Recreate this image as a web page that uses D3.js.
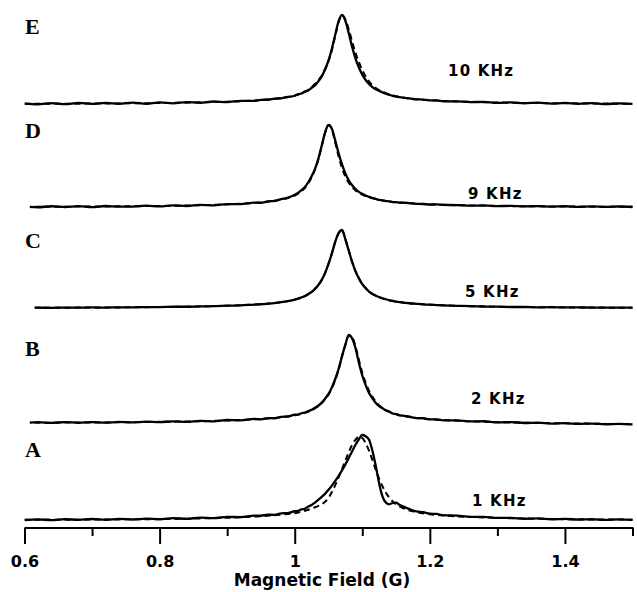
<!DOCTYPE html>
<html>
<head>
<meta charset="utf-8">
<script src="https://cdn.jsdelivr.net/npm/d3@7"></script>
<style>
  body { margin: 0; background: #fff; }
  svg { display: block; }
</style>
</head>
<body>
<div id="chart"></div>
<script>
// field values (G) shared by every trace
const field = [
  0.60, 0.62, 0.64, 0.66, 0.68, 0.70, 0.72, 0.74, 0.76, 0.78, 0.80, 0.82, 0.84, 0.86, 0.88, 0.90, 0.92, 0.94,
  0.95, 0.96, 0.97, 0.98, 0.99,
  1.000, 1.005, 1.010, 1.015, 1.020, 1.025, 1.030, 1.035, 1.040, 1.045, 1.050, 1.055, 1.060, 1.065, 1.070,
  1.075, 1.080, 1.085, 1.090, 1.095, 1.100, 1.105, 1.110, 1.115, 1.120, 1.125, 1.130, 1.135, 1.140, 1.145,
  1.150, 1.155, 1.160,
  1.17, 1.18, 1.19, 1.20, 1.21, 1.22,
  1.24, 1.26, 1.28, 1.30, 1.32, 1.34, 1.36, 1.38, 1.40, 1.42, 1.44, 1.46, 1.48, 1.50
];

const panelNames = ['A', 'B', 'C', 'D', 'E'];
const freqLabels = ['1 KHz', '2 KHz', '5 KHz', '9 KHz', '10 KHz'];
const majorTicks = [0.6, 0.8, 1.0, 1.2, 1.4];
const minorTicks = [0.7, 0.9, 1.1, 1.3, 1.5];

// measured spectra (normalised, peak = 1)
const traceA = [
  0.000, 0.008, -0.002, 0.010, 0.002, 0.012, 0.003, 0.014, 0.006, 0.017, 0.009, 0.021, 0.014, 0.027, 0.022, 0.037, 0.034, 0.052,
  0.050, 0.062, 0.061, 0.079, 0.082,
  0.103, 0.107, 0.125, 0.133, 0.158, 0.176, 0.205, 0.238, 0.272, 0.310, 0.355, 0.405, 0.460, 0.520, 0.585,
  0.655, 0.730, 0.810, 0.885, 0.950, 1.000, 0.985, 0.945, 0.815, 0.635, 0.430, 0.275, 0.205, 0.185, 0.200,
  0.205, 0.180, 0.160,
  0.128, 0.102, 0.093, 0.075, 0.071, 0.057,
  0.051, 0.037, 0.036, 0.024, 0.025, 0.015, 0.018, 0.009, 0.013, 0.005, 0.009, 0.002, 0.007, 0.001
];
const traceB = [
  0.000, 0.009, 0.001, 0.010, 0.002, 0.011, 0.004, 0.012, 0.006, 0.015, 0.009, 0.019, 0.013, 0.025, 0.018, 0.034, 0.030, 0.046,
  0.042, 0.056, 0.054, 0.070, 0.073,
  0.094, 0.096, 0.111, 0.119, 0.136, 0.150, 0.174, 0.198, 0.232, 0.277, 0.330, 0.405, 0.500, 0.615, 0.760,
  0.890, 1.000, 0.960, 0.850, 0.685, 0.540, 0.430, 0.340, 0.280, 0.228, 0.192, 0.168, 0.141, 0.130, 0.108,
  0.102, 0.087, 0.083,
  0.071, 0.056, 0.054, 0.041, 0.040, 0.030,
  0.030, 0.018, 0.020, 0.006, 0.011, 0.000, 0.004, -0.006, -0.002, -0.010, -0.006, -0.014, -0.010, -0.016
];
const traceC = [
  0.003, 0.005, 0.002, 0.006, 0.004, 0.007, 0.005, 0.009, 0.008, 0.012, 0.012, 0.016, 0.016, 0.021, 0.023, 0.030, 0.034, 0.044,
  0.048, 0.055, 0.063, 0.074, 0.088,
  0.107, 0.120, 0.136, 0.153, 0.177, 0.205, 0.245, 0.295, 0.360, 0.450, 0.565, 0.700, 0.850, 0.960, 1.000,
  0.880, 0.735, 0.590, 0.470, 0.380, 0.305, 0.255, 0.210, 0.180, 0.158, 0.140, 0.123, 0.112, 0.099, 0.090,
  0.082, 0.076, 0.070,
  0.061, 0.054, 0.047, 0.042, 0.038, 0.034,
  0.028, 0.024, 0.019, 0.017, 0.013, 0.013, 0.009, 0.010, 0.007, 0.008, 0.005, 0.006, 0.004, 0.005
];
const traceD = [
  0.006, -0.003, 0.009, 0.000, 0.011, -0.001, 0.012, 0.004, 0.005, 0.016, 0.007, 0.020, 0.012, 0.027, 0.020, 0.036, 0.034, 0.053,
  0.052, 0.068, 0.074, 0.096, 0.115,
  0.150, 0.172, 0.207, 0.243, 0.302, 0.375, 0.465, 0.590, 0.750, 0.910, 1.000, 0.955, 0.810, 0.655, 0.520,
  0.410, 0.325, 0.265, 0.220, 0.185, 0.160, 0.140, 0.123, 0.110, 0.099, 0.086, 0.082, 0.072, 0.069, 0.060,
  0.060, 0.052, 0.053,
  0.047, 0.038, 0.037, 0.030, 0.031, 0.025,
  0.024, 0.016, 0.019, 0.010, 0.014, 0.007, 0.011, 0.004, 0.009, 0.002, 0.007, 0.001, 0.006, 0.000
];
const traceE = [
  0.004, -0.004, 0.010, -0.002, 0.012, 0.001, 0.013, 0.003, 0.016, 0.002, 0.018, 0.008, 0.022, 0.014, 0.028, 0.022, 0.036, 0.036,
  0.047, 0.048, 0.060, 0.064, 0.080,
  0.093, 0.109, 0.118, 0.139, 0.153, 0.182, 0.208, 0.256, 0.310, 0.390, 0.490, 0.620, 0.780, 0.930, 1.000,
  0.935, 0.795, 0.640, 0.510, 0.410, 0.330, 0.270, 0.225, 0.190, 0.165, 0.147, 0.130, 0.115, 0.103, 0.092,
  0.084, 0.077, 0.071,
  0.063, 0.052, 0.050, 0.040, 0.041, 0.031,
  0.030, 0.021, 0.024, 0.012, 0.018, 0.008, 0.015, 0.004, 0.012, 0.002, 0.010, -0.002, 0.008, 0.002
];

// fitted curves (dashed)
const fitA = [
  0.002, 0.003, 0.003, 0.004, 0.004, 0.005, 0.006, 0.007, 0.008, 0.009, 0.011, 0.013, 0.015, 0.018, 0.022, 0.026, 0.032, 0.040,
  0.045, 0.050, 0.056, 0.063, 0.071,
  0.080, 0.088, 0.097, 0.108, 0.120, 0.134, 0.150, 0.166, 0.185, 0.215, 0.260, 0.330, 0.410, 0.500, 0.600,
  0.700, 0.800, 0.885, 0.945, 0.980, 0.965, 0.905, 0.815, 0.705, 0.590, 0.485, 0.395, 0.320, 0.262, 0.218,
  0.185, 0.160, 0.140,
  0.112, 0.093, 0.079, 0.068, 0.060, 0.053,
  0.043, 0.036, 0.030, 0.025, 0.021, 0.018, 0.015, 0.012, 0.010, 0.008, 0.007, 0.006, 0.005, 0.004
];
const fitB = [
  0.003, 0.004, 0.004, 0.005, 0.006, 0.006, 0.007, 0.008, 0.010, 0.011, 0.013, 0.015, 0.018, 0.020, 0.024, 0.028, 0.034, 0.041,
  0.045, 0.051, 0.057, 0.065, 0.076,
  0.088, 0.095, 0.104, 0.115, 0.128, 0.145, 0.166, 0.192, 0.226, 0.270, 0.322, 0.395, 0.490, 0.608, 0.755,
  0.890, 0.995, 0.975, 0.870, 0.715, 0.572, 0.458, 0.366, 0.298, 0.242, 0.200, 0.170, 0.147, 0.128, 0.113,
  0.101, 0.091, 0.082,
  0.068, 0.058, 0.051, 0.044, 0.039, 0.034,
  0.026, 0.020, 0.014, 0.009, 0.006, 0.003, 0.000, -0.002, -0.004, -0.006, -0.008, -0.010, -0.012, -0.014
];
const fitC = [
  0.003, 0.003, 0.004, 0.004, 0.005, 0.006, 0.007, 0.008, 0.009, 0.011, 0.013, 0.014, 0.017, 0.020, 0.024, 0.029, 0.035, 0.043,
  0.048, 0.055, 0.063, 0.074, 0.088,
  0.107, 0.120, 0.136, 0.153, 0.177, 0.205, 0.245, 0.295, 0.360, 0.450, 0.565, 0.700, 0.850, 0.960, 1.000,
  0.880, 0.735, 0.590, 0.470, 0.380, 0.305, 0.255, 0.210, 0.180, 0.158, 0.140, 0.123, 0.112, 0.099, 0.090,
  0.082, 0.076, 0.070,
  0.061, 0.054, 0.047, 0.042, 0.038, 0.034,
  0.028, 0.023, 0.020, 0.016, 0.014, 0.012, 0.010, 0.009, 0.008, 0.007, 0.006, 0.005, 0.004, 0.004
];
const fitD = [
  0.003, 0.003, 0.004, 0.004, 0.005, 0.006, 0.007, 0.008, 0.009, 0.011, 0.013, 0.015, 0.018, 0.022, 0.026, 0.032, 0.039, 0.050,
  0.056, 0.065, 0.077, 0.090, 0.110,
  0.140, 0.163, 0.193, 0.232, 0.288, 0.360, 0.455, 0.580, 0.742, 0.905, 1.000, 0.945, 0.785, 0.615, 0.475,
  0.370, 0.295, 0.242, 0.202, 0.172, 0.150, 0.133, 0.119, 0.107, 0.097, 0.088, 0.080, 0.074, 0.067, 0.062,
  0.058, 0.054, 0.051,
  0.045, 0.040, 0.035, 0.032, 0.029, 0.027,
  0.022, 0.019, 0.016, 0.013, 0.011, 0.010, 0.008, 0.007, 0.006, 0.005, 0.004, 0.004, 0.003, 0.003
];
const fitE = [
  0.002, 0.003, 0.003, 0.004, 0.004, 0.005, 0.006, 0.007, 0.008, 0.009, 0.011, 0.013, 0.015, 0.019, 0.022, 0.026, 0.032, 0.039,
  0.044, 0.050, 0.057, 0.066, 0.078,
  0.095, 0.107, 0.120, 0.137, 0.160, 0.190, 0.225, 0.268, 0.318, 0.390, 0.480, 0.605, 0.765, 0.920, 1.000,
  0.950, 0.840, 0.700, 0.575, 0.470, 0.380, 0.310, 0.255, 0.212, 0.180, 0.156, 0.137, 0.121, 0.108, 0.097,
  0.088, 0.080, 0.073,
  0.062, 0.054, 0.048, 0.042, 0.038, 0.034,
  0.028, 0.024, 0.020, 0.017, 0.014, 0.012, 0.011, 0.009, 0.008, 0.007, 0.006, 0.005, 0.004, 0.004
];

const traces = [traceA, traceB, traceC, traceD, traceE];
const fits = [fitA, fitB, fitC, fitD, fitE];

// where each stacked panel sits on the page (pixels)
const layout = [
  { base: 520, peak: 435, letterY: 457, freqX: 472, freqY: 506, start: 0.600 },
  { base: 423, peak: 335, letterY: 356, freqX: 471, freqY: 404, start: 0.608 },
  { base: 308, peak: 230, letterY: 248, freqX: 465, freqY: 297, start: 0.615 },
  { base: 207, peak: 125, letterY: 138, freqX: 468, freqY: 199, start: 0.608 },
  { base: 104, peak: 15,  letterY: 34,  freqX: 448, freqY: 76,  start: 0.600 }
];

const width = 637, height = 592;
const axisY = 527.5;
const sansFont = '"DejaVu Sans", sans-serif';

const svg = d3.select('#chart')
  .append('svg')
  .attr('width', width)
  .attr('height', height);

const x = d3.scaleLinear()
  .domain([0.6, 1.5])
  .range([24.5, 632.5]);

const defs = svg.append('defs');

panelNames.forEach((name, i) => {
  const lay = layout[i];
  const y = d3.scaleLinear().domain([0, 1]).range([lay.base, lay.peak]);

  defs.append('clipPath')
    .attr('id', 'clip-' + name)
    .append('rect')
    .attr('x', x(lay.start))
    .attr('y', 0)
    .attr('width', x(1.5) - x(lay.start) + 2)
    .attr('height', height);

  const line = d3.line()
    .defined((d, j) => d !== undefined && field[j] !== undefined)
    .x((d, j) => x(field[j]))
    .y(d => y(d))
    .curve(d3.curveMonotoneX);

  const g = svg.append('g').attr('clip-path', 'url(#clip-' + name + ')');

  g.append('path')
    .attr('d', line(traces[i]))
    .attr('fill', 'none')
    .attr('stroke', '#000')
    .attr('stroke-width', 2.3)
    .attr('stroke-linejoin', 'round');

  g.append('path')
    .attr('d', line(fits[i]))
    .attr('fill', 'none')
    .attr('stroke', '#000')
    .attr('stroke-width', 2)
    .attr('stroke-dasharray', '6,4');

  // panel letter
  svg.append('text')
    .attr('x', 25)
    .attr('y', lay.letterY)
    .style('font-family', '"Liberation Serif", "Times New Roman", serif')
    .style('font-weight', 'bold')
    .style('font-size', '22px')
    .text(name);

  // frequency label
  svg.append('text')
    .attr('x', lay.freqX)
    .attr('y', lay.freqY)
    .style('font-family', sansFont)
    .style('font-weight', 'bold')
    .style('font-size', '15px')
    .style('letter-spacing', '1.2px')
    .text(freqLabels[i]);
});

// x axis: major ticks with labels, minor ticks without
const majorAxis = d3.axisBottom(x)
  .tickValues(majorTicks)
  .tickSize(16.5)
  .tickSizeOuter(0)
  .tickPadding(12)
  .tickFormat(d => String(+d.toFixed(1)));

const minorAxis = d3.axisBottom(x)
  .tickValues(minorTicks)
  .tickSize(8.5)
  .tickSizeOuter(0)
  .tickFormat('');

const gMajor = svg.append('g')
  .attr('transform', `translate(0,${axisY})`)
  .call(majorAxis);

const gMinor = svg.append('g')
  .attr('transform', `translate(0,${axisY})`)
  .call(minorAxis);

[gMajor, gMinor].forEach(g => {
  g.select('.domain').attr('stroke', '#000').attr('stroke-width', 2);
  g.selectAll('.tick line').attr('stroke', '#000').attr('stroke-width', 2);
});

gMajor.selectAll('.tick text')
  .attr('fill', '#000')
  .style('font-family', sansFont)
  .style('font-weight', 'bold')
  .style('font-size', '16px');

svg.append('text')
  .attr('x', 322)
  .attr('y', 586)
  .attr('text-anchor', 'middle')
  .style('font-family', sansFont)
  .style('font-weight', 'bold')
  .style('font-size', '17px')
  .text('Magnetic Field (G)');
</script>
</body>
</html>
